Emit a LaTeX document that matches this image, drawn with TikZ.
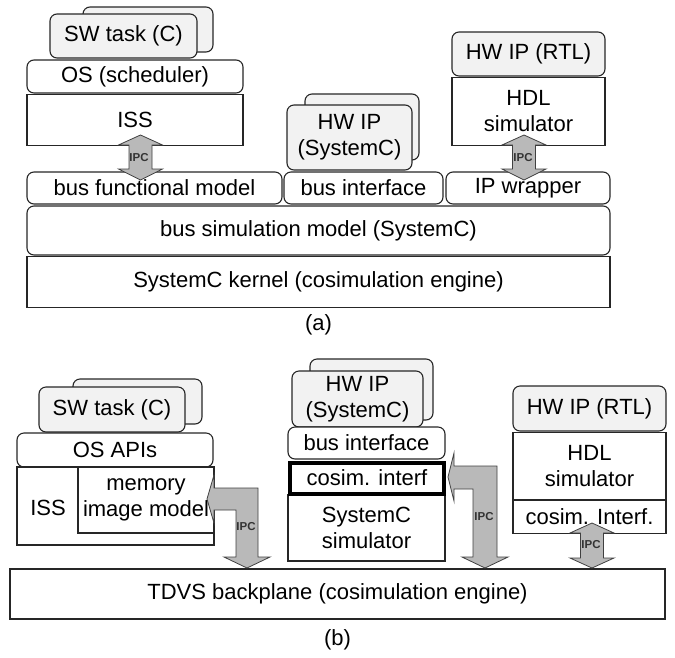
\documentclass[tikz,border=0pt]{standalone}
\usepackage{fontspec}
\setmainfont{Liberation Sans}
\usetikzlibrary{positioning}

\begin{document}
\begin{tikzpicture}[
    x=1pt, y=-1pt,
    box/.style={draw=black!85, line width=1.1pt, fill=white, inner sep=0pt, align=center},
    rbox/.style={box, rounded corners=7pt},
    task/.style={rbox, fill=gray!10},
    thickbox/.style={box, draw=black, line width=4pt},
    ipc/.style={draw=black!75, fill=gray!55, line width=0.8pt},
    ipclabel/.style={font=\fontsize{11.5}{11.5}\selectfont\bfseries, text=black!80, inner sep=0pt},
    font=\fontsize{22}{26}\selectfont
]
\useasboundingbox (0,0) rectangle (675,657);

% (a) software side
\node[task, minimum width=130, minimum height=45] (swback) at (148,29.5) {};
\node[task, minimum width=147, minimum height=44] (swtask) at (123.5,36) {SW task (C)};
\node[rbox, minimum width=216, minimum height=33] (os) at (135,76.5) {OS (scheduler)};
\node[box, minimum width=216, minimum height=51, below=0pt of os] (iss) {ISS};

% (a) hardware IPs
\node[task, minimum width=114, minimum height=66] (hwback) at (362,127) {};
\node[task, minimum width=125, minimum height=65] (hwip) at (349.5,137.5) {HW IP\\(SystemC)};
\node[task, minimum width=153, minimum height=44] (rtl) at (528.5,54) {HW IP (RTL)};
\node[box, minimum width=153, minimum height=68, below=0pt of rtl] (hdl) {HDL\\simulator};

% (a) bus layers
\node[rbox, minimum width=255, minimum height=32] (bfm) at (154.5,188) {bus functional model};
\node[rbox, minimum width=159, minimum height=32] (busif) at (363.5,188) {bus interface};
\node[rbox, minimum width=164, minimum height=32] (wrap) at (528,188) {IP wrapper};
\node[rbox, minimum width=583, minimum height=49] (bsm) at (318.5,230.5) {bus simulation model (SystemC)};
\node[box, minimum width=583, minimum height=51, below=0pt of bsm] (kernel) {SystemC kernel (cosimulation engine)};
\node (capa) at (318.5,325) {(a)};

% (a) IPC arrows
\coordinate (ipcA) at (140.5,135);
\coordinate (ipcB) at (524,135);
\filldraw[ipc] (ipcA) -- ++(22,10) -- ++(-10.5,0) -- ++(0,24) -- ++(10.5,0) -- ++(-22,11)
    -- ++(-22,-11) -- ++(10.5,0) -- ++(0,-24) -- ++(-10.5,0) -- cycle;
\filldraw[ipc] (ipcB) -- ++(22,10) -- ++(-10.5,0) -- ++(0,24) -- ++(10.5,0) -- ++(-22,11)
    -- ++(-22,-11) -- ++(10.5,0) -- ++(0,-24) -- ++(-10.5,0) -- cycle;
\node[ipclabel] (ipclA) at (139,158) {IPC};
\node[ipclabel] (ipclB) at (523,158) {IPC};

% (b) software side
\node[task, minimum width=129, minimum height=45] (swback2) at (137.5,401.5) {};
\node[task, minimum width=146, minimum height=45] (swtask2) at (112,409.5) {SW task (C)};
\node[rbox, minimum width=196, minimum height=34] (osapi) at (115,450) {OS APIs};
\node[box, minimum width=197, minimum height=78] (issb) at (115.5,506) {};
\node (isslabel) at (48,508) {ISS};
\node[box, minimum width=136, minimum height=66] (mem) at (146,500) {memory\\image model};

% (b) SystemC IP
\node[task, minimum width=123, minimum height=61] (hwback2) at (371.5,389.5) {};
\node[task, minimum width=131, minimum height=56] (hwip2) at (357.5,399) {HW IP\\(SystemC)};
\node[rbox, minimum width=157, minimum height=32] (busif2) at (366.5,443) {bus interface};
\node[box, minimum width=157, minimum height=66] (scsim) at (366.5,528) {SystemC\\simulator};
\node[thickbox, minimum width=154, minimum height=31] (cosim) at (367,478) {cosim. interf};

% (b) RTL IP
\node[task, minimum width=153, minimum height=45] (rtl2) at (589.5,408.5) {HW IP (RTL)};
\node[box, minimum width=153, minimum height=67, below=0pt of rtl2] (hdl2) {HDL\\simulator};
\node[box, minimum width=153, minimum height=33, below=0pt of hdl2] (cosim2) {cosim. Interf.};

% (b) backplane
\node[box, minimum width=655, minimum height=50] (tdvs) at (337.5,594) {TDVS backplane (cosimulation engine)};
\node (capb) at (337.5,640) {(b)};

% (b) IPC arrows
\coordinate (ipcC) at (207,499);
\coordinate (ipcD) at (448,477);
\coordinate (ipcE) at (592,523);
\filldraw[ipc] (ipcC) -- ++(7,-24) -- ++(0,13) -- ++(44,0) -- ++(0,69) -- ++(12,0) -- ++(-23,11)
    -- ++(-23,-11) -- ++(12,0) -- ++(0,-47) -- ++(-22,0) -- ++(0,13) -- cycle;
\filldraw[ipc] (ipcD) -- ++(6,-24) -- ++(0,13) -- ++(43,0) -- ++(0,91) -- ++(11,0) -- ++(-23,11)
    -- ++(-23,-11) -- ++(11,0) -- ++(0,-68) -- ++(-19,0) -- ++(0,12) -- cycle;
\filldraw[ipc] (ipcE) -- ++(22,10) -- ++(-10.5,0) -- ++(0,25) -- ++(10.5,0) -- ++(-22,10)
    -- ++(-22,-10) -- ++(10.5,0) -- ++(0,-25) -- ++(-10.5,0) -- cycle;
\node[ipclabel] (ipclC) at (246,527) {IPC};
\node[ipclabel] (ipclD) at (484,517) {IPC};
\node[ipclabel] (ipclE) at (591,545) {IPC};

\end{tikzpicture}
\end{document}
